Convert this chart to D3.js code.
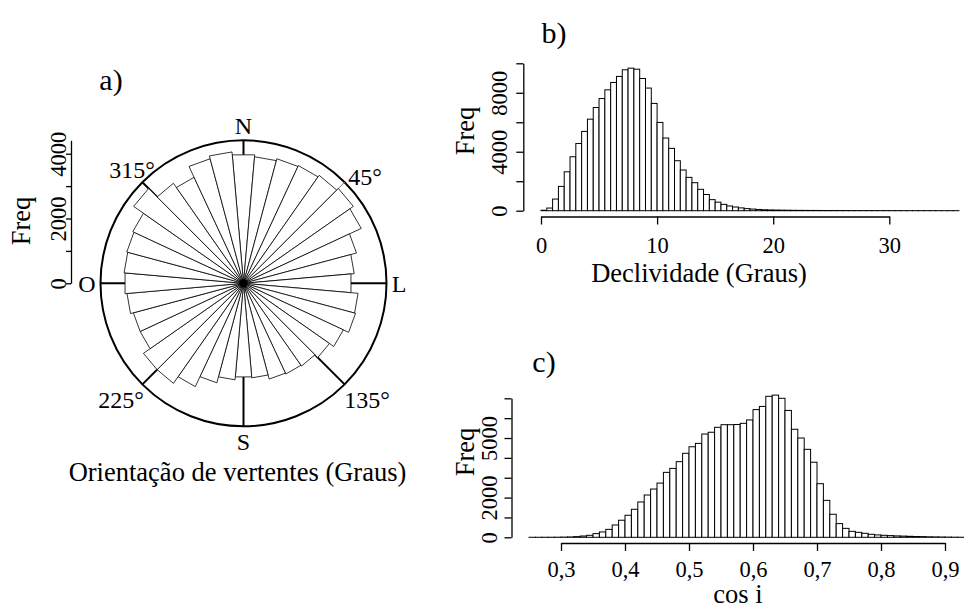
<!DOCTYPE html>
<html>
<head>
<meta charset="utf-8">
<script src="https://cdn.jsdelivr.net/npm/d3@7"></script>
<style>
  body { margin: 0; background: #fff; }
  text { font-family: "Liberation Serif", "Times New Roman", serif; fill: #000; }
</style>
</head>
<body>
<svg id="chart" width="964" height="612"></svg>
<script>
// a) aspect rose, 10 degree bins centred on these directions
const aspectDeg = [0, 10, 20, 30, 40, 50, 60, 70, 80, 90, 100, 110, 120, 130, 140, 150, 160, 170,
                   180, 190, 200, 210, 220, 230, 240, 250, 260, 270, 280, 290, 300, 310, 320, 330, 340, 350];
const aspectFreq = [3980, 3920, 3980, 4010, 4070, 4140, 4010, 3610, 3430, 3330, 3550, 3580, 3400, 3240, 3120, 3090, 3060, 2930,
                    2900, 2990, 3180, 3520, 3770, 3770, 3520, 3520, 3610, 3670, 3700, 3730, 3770, 4140, 3770, 3610, 3980, 4070];
const aspectTicks = [0, 1000, 2000, 3000, 4000];
const aspectTickLabels = [0, 2000, 4000];
const compassDeg = [0, 45, 90, 135, 180, 225, 270, 315];

// b) slope histogram, bins of 0.5 degree starting at 0
const slopeBinWidth = 0.5;
const slopeFreq = [30, 180, 790, 1650, 2640, 3660, 4560, 5380, 6210, 7000, 7610, 8200, 8700, 9110, 9560, 9670, 9600, 8970,
                   8320, 7280, 5990, 4930, 4230, 3390, 2760, 2260, 1900, 1450, 1100, 750, 580, 430, 320, 250, 190, 140,
                   110, 85, 65, 50, 42, 36, 30, 26, 22, 20, 18, 16, 14, 13, 12, 11, 10, 9, 8, 8, 7, 7, 6, 6, 5, 5,
                   4, 4, 4, 3, 3, 3, 2, 2, 2, 2];
const slopeXTicks = [0, 10, 20, 30];
const slopeYTicks = [0, 2000, 4000, 6000, 8000, 10000];
const slopeYLabels = [0, 4000, 8000];

// c) cos i histogram, bins of 0.01 starting at 0.25
const cosStart = 0.25;
const cosBinWidth = 0.01;
const cosFreq = [1, 1, 2, 3, 5, 10, 18, 35, 65, 100, 185, 270, 400, 620, 860, 1110, 1410, 1780, 2130, 2430,
                 2730, 3270, 3470, 3810, 4230, 4560, 4730, 5200, 5290, 5540, 5670, 5670, 5680, 5740, 5910, 6430,
                 6590, 7100, 7160, 7000, 6390, 5440, 5000, 4430, 3780, 2700, 1860, 1160, 690, 450, 300, 250,
                 200, 150, 120, 100, 85, 70, 60, 50, 40, 35, 25, 20, 15, 10, 6, 3];
const cosXTicks = [0.3, 0.4, 0.5, 0.6, 0.7, 0.8, 0.9];
const cosYTicks = [0, 1000, 2000, 3000, 4000, 5000, 6000, 7000];
const cosYLabels = [0, 2000, 5000];

const svg = d3.select("#chart");
svg.append("rect").attr("width", 964).attr("height", 612).attr("fill", "#fff");

const tickFont = 22.5;
const titleFont = 26.5;

// ---------- a) rose ----------
const cx = 243.5, cy = 283.3, R = 143;
const r = d3.scaleLinear().domain([0, 4414]).range([0, R]);
const pt = (deg, rad) => {
  const a = deg * Math.PI / 180;
  return [cx + rad * Math.sin(a), cy - rad * Math.cos(a)];
};

const rose = svg.append("g");
rose.append("circle").attr("cx", cx).attr("cy", cy).attr("r", R)
  .attr("fill", "none").attr("stroke", "#000").attr("stroke-width", 2);

rose.selectAll("line.dir").data(compassDeg).enter().append("line")
  .attr("class", "dir")
  .attr("x1", cx).attr("y1", cy)
  .attr("x2", d => pt(d, R)[0]).attr("y2", d => pt(d, R)[1])
  .attr("stroke", d => d === 45 ? "#777" : "#000")
  .attr("stroke-width", d => d === 45 ? 1 : 2);

rose.selectAll("path.petal").data(aspectDeg).enter().append("path")
  .attr("class", "petal")
  .attr("d", (d, i) => {
    const rad = r(aspectFreq[i]);
    return d3.line()([[cx, cy], pt(d - 5, rad), pt(d + 5, rad)]) + "Z";
  })
  .attr("fill", "#fff").attr("stroke", "#000").attr("stroke-width", 0.8)
  .attr("stroke-linejoin", "miter");

rose.append("circle").attr("cx", cx).attr("cy", cy).attr("r", 4).attr("fill", "#000");

const compassText = [
  { t: "N", x: 243.5, y: 134 }, { t: "S", x: 243.5, y: 450 },
  { t: "O", x: 87, y: 292 }, { t: "L", x: 399, y: 292 },
  { t: "315°", x: 132, y: 178 }, { t: "45°", x: 365, y: 185 },
  { t: "225°", x: 121, y: 408 }, { t: "135°", x: 367, y: 408 }
];
rose.selectAll("text.cmp").data(compassText).enter().append("text")
  .attr("class", "cmp")
  .attr("x", d => d.x).attr("y", d => d.y)
  .attr("text-anchor", "middle").attr("font-size", 24)
  .text(d => d.t);

// rose frequency axis
const rAxisScale = d3.scaleLinear().domain([0, 4414]).range([cy, cy - R]);
const rAxis = svg.append("g").attr("transform", "translate(71,0)")
  .call(d3.axisLeft(rAxisScale).tickValues(aspectTicks).tickSize(5).tickSizeOuter(0)
    .tickFormat(d => aspectTickLabels.includes(d) ? d : ""));

function styleYAxis(g, off) {
  g.select(".domain").attr("stroke", "#000").attr("stroke-width", 1.3);
  g.selectAll(".tick line").attr("stroke", "#000").attr("stroke-width", 1.3);
  g.selectAll(".tick text")
    .attr("transform", "rotate(-90)")
    .attr("x", 0).attr("y", -off).attr("dy", 0)
    .attr("text-anchor", "middle")
    .attr("font-family", "Liberation Serif, serif")
    .attr("font-size", tickFont).attr("fill", "#000");
}
function styleXAxis(g, off) {
  g.select(".domain").attr("stroke", "#000").attr("stroke-width", 1.3);
  g.selectAll(".tick line").attr("stroke", "#000").attr("stroke-width", 1.3);
  g.selectAll(".tick text")
    .attr("y", off).attr("dy", 0)
    .attr("font-family", "Liberation Serif, serif")
    .attr("font-size", tickFont).attr("fill", "#000");
}
styleYAxis(rAxis, 5);

function vLabel(x, y, t) {
  svg.append("text").attr("transform", `translate(${x},${y}) rotate(-90)`)
    .attr("text-anchor", "middle").attr("font-size", titleFont).text(t);
}
function hLabel(x, y, t, size) {
  svg.append("text").attr("x", x).attr("y", y)
    .attr("text-anchor", "middle").attr("font-size", size || titleFont).text(t);
}
vLabel(30, 221, "Freq");
hLabel(237.5, 481, "Orientação de vertentes (Graus)");
hLabel(111, 90, "a)", 30);

// ---------- histogram helper ----------
function histogram(o) {
  const x = d3.scaleLinear().domain(o.xDomain).range(o.xRange);
  const y = d3.scaleLinear().domain(o.yDomain).range(o.yRange);
  const g = svg.append("g");
  g.selectAll("rect").data(o.freq).enter().append("rect")
    .attr("x", (d, i) => x(o.start + i * o.width))
    .attr("width", (d, i) => x(o.start + (i + 1) * o.width) - x(o.start + i * o.width))
    .attr("y", d => y(d))
    .attr("height", d => y(0) - y(d))
    .attr("fill", "#fff").attr("stroke", "#000").attr("stroke-width", 1);

  const ya = svg.append("g").attr("transform", `translate(${o.yAxisX},0)`)
    .call(d3.axisLeft(y).tickValues(o.yTicks).tickSize(7).tickSizeOuter(0)
      .tickFormat(d => o.yLabels.includes(d) ? d : ""));
  styleYAxis(ya, o.yLabOff);

  const xa = svg.append("g").attr("transform", `translate(0,${o.xAxisY})`)
    .call(d3.axisBottom(x).tickValues(o.xTicks).tickSize(8).tickSizeOuter(0)
      .tickFormat(o.fmt));
  styleXAxis(xa, o.xLabOff);
}

// ---------- b) ----------
histogram({
  freq: slopeFreq, start: 0, width: slopeBinWidth,
  xDomain: [0, 30], xRange: [541, 889.3],
  yDomain: [0, 10000], yRange: [210.7, 63.3],
  yTicks: slopeYTicks, yLabels: slopeYLabels, xTicks: slopeXTicks,
  yAxisX: 523.3, xAxisY: 216.5, yLabOff: 16.5, xLabOff: 36,
  fmt: d => d
});
vLabel(474, 131, "Freq");
hLabel(699, 282, "Declividade (Graus)");
hLabel(554, 43, "b)", 30);

// ---------- c) ----------
histogram({
  freq: cosFreq, start: cosStart, width: cosBinWidth,
  xDomain: [0.3, 0.9], xRange: [561, 945],
  yDomain: [0, 7000], yRange: [537.3, 398.3],
  yTicks: cosYTicks, yLabels: cosYLabels, xTicks: cosXTicks,
  yAxisX: 511.5, xAxisY: 543, yLabOff: 15, xLabOff: 34,
  fmt: d => d3.format(".1f")(d).replace(".", ",")
});
vLabel(474, 452, "Freq");
hLabel(738, 603, "cos i");
hLabel(544, 372, "c)", 30);
</script>
</body>
</html>
